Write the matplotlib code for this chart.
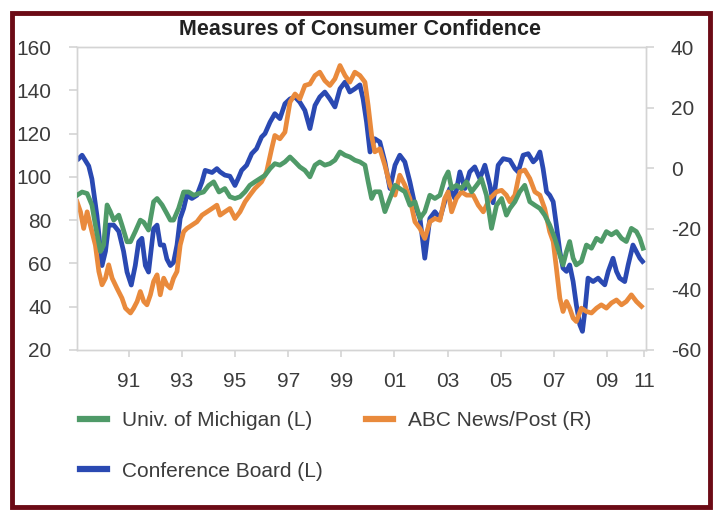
import matplotlib
matplotlib.use("Agg")
import matplotlib.pyplot as plt
from matplotlib.patches import Rectangle

plt.rcParams["font.family"] = ["Liberation Sans", "DejaVu Sans"]
plt.rcParams["axes.unicode_minus"] = False

# x values are chart years as placed on the axis labels
mich_x = [1989.06, 1989.25, 1989.44, 1989.62, 1989.75, 1989.94, 1990.06, 1990.19, 1990.31, 1990.44,
          1990.63, 1990.75, 1990.94, 1991.07, 1991.25, 1991.44, 1991.57, 1991.75, 1991.94, 1992.07,
          1992.26, 1992.44, 1992.57, 1992.69, 1992.88, 1993.07, 1993.26, 1993.45, 1993.63, 1993.82,
          1994.01, 1994.20, 1994.40, 1994.62, 1994.81, 1995.00, 1995.19, 1995.38, 1995.56, 1995.75,
          1995.94, 1996.13, 1996.32, 1996.50, 1996.69, 1996.88, 1997.07, 1997.26, 1997.44, 1997.63,
          1997.82, 1998.01, 1998.19, 1998.38, 1998.57, 1998.76, 1998.95, 1999.14, 1999.32, 1999.51,
          1999.70, 1999.89, 2000.01, 2000.14, 2000.26, 2000.45, 2000.64, 2000.83, 2001.02, 2001.20,
          2001.39, 2001.58, 2001.77, 2001.96, 2002.14, 2002.33, 2002.52, 2002.71, 2002.89, 2003.02,
          2003.15, 2003.33, 2003.52, 2003.71, 2003.90, 2004.09, 2004.27, 2004.46, 2004.65, 2004.84,
          2005.03, 2005.21, 2005.34, 2005.53, 2005.71, 2005.90, 2006.09, 2006.28, 2006.47, 2006.65,
          2006.84, 2007.03, 2007.22, 2007.34, 2007.47, 2007.59, 2007.72, 2007.84, 2008.03, 2008.22,
          2008.41, 2008.60, 2008.78, 2008.97, 2009.16, 2009.35, 2009.54, 2009.72, 2009.91, 2010.10,
          2010.23, 2010.35]
mich_y = [91.5, 93, 92.3, 87, 77.7, 65.5, 68.5, 87, 84, 80,
          82.3, 77.7, 70, 70, 74.7, 80, 79, 75.4, 88.5, 90,
          87, 83, 80, 80, 85.4, 93, 93, 91.5, 92.3, 93,
          96, 97.7, 93, 94.6, 90.8, 90, 90.8, 93.1, 96.1, 97.7,
          99.2, 100.7, 103.8, 106.1, 105.4, 106.9, 109.2, 106.9, 104.6, 103,
          100, 105.4, 106.9, 105.4, 106.1, 107.7, 111.5, 110, 109.2, 107.7,
          106.9, 105.4, 97.7, 90, 93.1, 93.1, 83.9, 90, 96.1, 94.6,
          93.1, 86.9, 88.5, 80.8, 83.9, 91.5, 90, 91.5, 99.2, 102.3,
          94.6, 96.1, 94.6, 97.7, 93.1, 96.1, 99.2, 91.5, 76.2, 86.9,
          90, 82.3, 85.4, 88.5, 93.1, 96.1, 88.5, 86.9, 85.4, 82.3,
          77.7, 71.6, 63.9, 59.3, 65.5, 70.1, 62.4, 59.3, 60.9, 68.5,
          67, 71.6, 70.1, 74.7, 73.2, 74.7, 71.6, 70.1, 76.2, 74.7,
          71.6, 67]

abc_x = [1989.06, 1989.19, 1989.31, 1989.44, 1989.56, 1989.75, 1989.88, 1990.00, 1990.13, 1990.25,
         1990.38, 1990.56, 1990.75, 1990.88, 1991.07, 1991.19, 1991.32, 1991.44, 1991.57, 1991.69,
         1991.82, 1991.94, 1992.07, 1992.19, 1992.32, 1992.44, 1992.57, 1992.69, 1992.82, 1992.94,
         1993.07, 1993.19, 1993.38, 1993.57, 1993.76, 1993.95, 1994.14, 1994.32, 1994.44, 1994.62,
         1994.81, 1995.00, 1995.19, 1995.38, 1995.56, 1995.75, 1996.00, 1996.19, 1996.38, 1996.50,
         1996.69, 1996.88, 1997.07, 1997.26, 1997.44, 1997.63, 1997.82, 1998.01, 1998.19, 1998.38,
         1998.57, 1998.76, 1998.95, 1999.14, 1999.32, 1999.51, 1999.70, 1999.89, 2000.01, 2000.14,
         2000.26, 2000.45, 2000.64, 2000.83, 2001.02, 2001.20, 2001.39, 2001.58, 2001.77, 2001.96,
         2002.14, 2002.33, 2002.52, 2002.71, 2002.89, 2003.02, 2003.15, 2003.33, 2003.52, 2003.71,
         2003.96, 2004.15, 2004.34, 2004.59, 2004.84, 2005.03, 2005.21, 2005.34, 2005.53, 2005.71,
         2005.90, 2006.09, 2006.28, 2006.47, 2006.65, 2006.84, 2006.97, 2007.09, 2007.22, 2007.34,
         2007.47, 2007.59, 2007.72, 2007.84, 2008.03, 2008.22, 2008.41, 2008.60, 2008.78, 2008.97,
         2009.16, 2009.35, 2009.54, 2009.72, 2009.91, 2010.10, 2010.29]
abc_y = [-11.1, -14.4, -19.9, -14.4, -18.8, -25.4, -34.1, -38.5, -36.3, -31.9,
         -36.3, -39.6, -42.9, -46.2, -47.8, -46.2, -44, -40.7, -44, -45.1,
         -41.8, -37.4, -35.2, -41.8, -36.3, -38.5, -39.6, -36.3, -34.1, -25.4,
         -21, -19.9, -18.8, -17.7, -15.5, -14.4, -13.3, -12.2, -15.5, -14.4,
         -13.3, -16.6, -14.4, -11.1, -8.9, -6.7, -4.5, -1.2, 6.4, 10.8,
         9.7, 11.9, 21.8, 24.5, 22.9, 27.3, 27.8, 30.6, 31.7, 28.9,
         27.3, 29.5, 33.9, 30.6, 28.4, 31.7, 30.6, 28.4, 20.7, 10.8,
         5.4, 6.4, 0.9, -5.6, -8.9, -2.3, -5.6, -10, -17.7, -19.9,
         -23.2, -17.7, -16.6, -17.2, -10, -7.8, -14.4, -10, -7.8, -8.9,
         -8.9, -12.2, -14.4, -10, -7.8, -7.3, -8.9, -11.1, -8.9, -1.2,
         -0.6, -3.4, -7.8, -8.9, -13.3, -21, -24.2, -33, -42.9, -47.3,
         -44, -46.2, -49.5, -50.6, -46.2, -47.3, -47.8, -46.2, -45.1, -46.2,
         -44.5, -43.5, -45.1, -44, -41.8, -44, -45.6]

conf_x = [1989.12, 1989.25, 1989.50, 1989.62, 1989.81, 1990.00, 1990.13, 1990.25, 1990.44, 1990.63,
          1990.81, 1990.94, 1991.10, 1991.25, 1991.38, 1991.50, 1991.63, 1991.75, 1991.94, 1992.07,
          1992.19, 1992.32, 1992.44, 1992.57, 1992.69, 1992.82, 1992.94, 1993.07, 1993.19, 1993.38,
          1993.57, 1993.76, 1993.88, 1994.14, 1994.32, 1994.44, 1994.62, 1994.81, 1995.00, 1995.12,
          1995.25, 1995.44, 1995.63, 1995.81, 1996.00, 1996.13, 1996.32, 1996.50, 1996.69, 1996.88,
          1997.07, 1997.26, 1997.44, 1997.63, 1997.82, 1998.01, 1998.19, 1998.38, 1998.57, 1998.76,
          1998.95, 1999.14, 1999.32, 1999.51, 1999.70, 1999.82, 1999.95, 2000.08, 2000.26, 2000.45,
          2000.64, 2000.83, 2001.02, 2001.20, 2001.39, 2001.58, 2001.77, 2001.96, 2002.14, 2002.33,
          2002.52, 2002.71, 2002.89, 2003.08, 2003.27, 2003.46, 2003.65, 2003.83, 2004.02, 2004.21,
          2004.40, 2004.59, 2004.71, 2004.90, 2005.09, 2005.34, 2005.53, 2005.65, 2005.84, 2006.03,
          2006.22, 2006.34, 2006.47, 2006.59, 2006.72, 2006.84, 2006.97, 2007.09, 2007.22, 2007.34,
          2007.47, 2007.59, 2007.72, 2007.84, 2007.97, 2008.07, 2008.16, 2008.28, 2008.47, 2008.66,
          2008.78, 2008.91, 2009.04, 2009.22, 2009.35, 2009.47, 2009.66, 2009.79, 2009.97, 2010.10,
          2010.23, 2010.33]
conf_y = [108.4, 110, 105, 99, 82, 59, 65.6, 77.7, 77.7, 74.8,
          65.6, 56, 50, 59, 70, 71.6, 59, 56, 76, 77.7,
          68.5, 68.5, 62, 59, 60.5, 68.5, 80.8, 85.4, 91.5, 90,
          91.5, 97.7, 103, 102, 103.8, 102.3, 100.8, 100.3, 96, 99.2,
          103, 105.4, 110.7, 113, 118.4, 120, 125.3, 129.2, 126.9, 133.8,
          136, 136.9, 134.5, 130.7, 122.3, 133, 136.9, 139.2, 136, 132.3,
          140.7, 143.8, 139.2, 140.7, 142.5, 136, 125.3, 111.5, 117.6, 116.1,
          106.9, 94.6, 105.4, 110, 106.9, 97.7, 86.9, 80.8, 62.4, 80.8,
          83.9, 80.8, 88.5, 94.6, 90, 102.3, 94.6, 102.3, 104.6, 99.2,
          105.4, 96.1, 88, 105.4, 108.4, 107.7, 103.8, 102.3, 110, 110.7,
          106.9, 108.4, 111.5, 103.8, 93.1, 91.5, 88.5, 77.7, 65.5, 57.8,
          56.3, 59.3, 51.6, 40.9, 31.7, 28.6, 37.8, 53.2, 51.6, 53.2,
          51.6, 50.1, 56.3, 62.4, 56.3, 53.2, 51.6, 59.3, 68.5, 65.5,
          62.4, 60.9]

tick_years = [1991, 1993, 1995, 1997, 1999, 2001, 2003, 2005, 2007, 2009, 2010.4]
tick_labels = ["91", "93", "95", "97", "99", "01", "03", "05", "07", "09", "11"]
left_ticks = [20, 40, 60, 80, 100, 120, 140, 160]
right_ticks = [-60, -40, -20, 0, 20, 40]

GREEN = "#4f9a68"
ORANGE = "#e98a3c"
BLUE = "#2a49b2"
TEXT = "#3c3c3c"
GRID = "#d4d4d4"

fig = plt.figure(figsize=(7.13, 5.2), dpi=100)
ax = fig.add_axes([0.1073, 0.327, 0.7987, 0.5826])
ax2 = ax.twinx()
ax3 = ax.twinx()

lw = 3.4
ax.plot(conf_x, conf_y, color=BLUE, lw=lw, label="Conference Board (L)")
ax2.plot(abc_x, abc_y, color=ORANGE, lw=lw, label="ABC News/Post (R)")
ax3.plot(mich_x, mich_y, color=GREEN, lw=lw, label="Univ. of Michigan (L)")

ax.set_xlim(1989.04, 2010.46)
ax.set_ylim(20, 160)
ax2.set_ylim(-60, 40)
ax3.set_ylim(20, 160)
ax3.axis("off")

ax.set_xticks(tick_years)
ax.set_xticklabels(tick_labels)
ax.set_yticks(left_ticks)
ax2.set_yticks(right_ticks)

for a in (ax, ax2):
    for s in a.spines.values():
        s.set_color(GRID)
        s.set_linewidth(1.0)
    a.tick_params(colors=GRID, labelcolor=TEXT, labelsize=15, length=6, width=1.2)
ax.tick_params(axis="y", pad=12)
ax2.tick_params(axis="y", pad=12)
ax.tick_params(axis="x", length=5, pad=11)

fig.text(0.505, 0.944, "Measures of Consumer Confidence", ha="center", va="center",
         fontsize=15.5, fontweight="bold", color="#222222")

h1, l1 = ax3.get_legend_handles_labels()
h2, l2 = ax2.get_legend_handles_labels()
h3, l3 = ax.get_legend_handles_labels()
leg = fig.legend(h1 + h3 + h2, l1 + l3 + l2, ncol=2, loc="upper left",
                 bbox_to_anchor=(0.086, 0.245), frameon=False, fontsize=15,
                 handlelength=1.3, handletextpad=0.7, columnspacing=2.1, labelspacing=1.5)
for t in leg.get_texts():
    t.set_color(TEXT)
for ln in leg.get_lines():
    ln.set_linewidth(4.5)

fig.patches.append(Rectangle((12 / 713, 13 / 520), 698 / 713, 494 / 520, transform=fig.transFigure,
                             fill=False, edgecolor="#6c0b16", linewidth=3.5))

fig.savefig("out.png", dpi=100)
